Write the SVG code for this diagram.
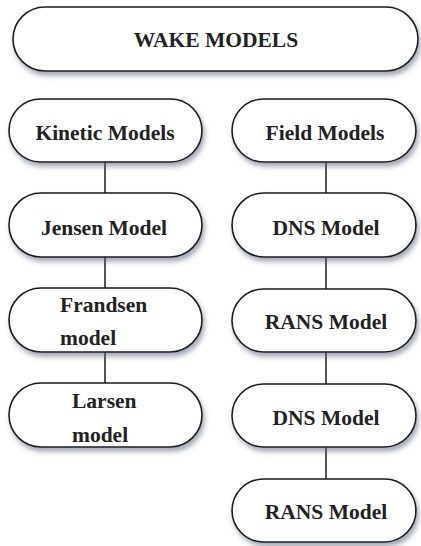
<svg xmlns="http://www.w3.org/2000/svg" width="421" height="546" viewBox="0 0 421 546">
  <defs>
    <filter id="shadow" x="-10%" y="-20%" width="125%" height="160%">
      <feGaussianBlur in="SourceAlpha" stdDeviation="2.5"/>
      <feOffset dx="2" dy="4" result="b"/>
      <feFlood flood-color="#5a6478" flood-opacity="0.55"/>
      <feComposite in2="b" operator="in"/>
      <feMerge>
        <feMergeNode/>
        <feMergeNode in="SourceGraphic"/>
      </feMerge>
    </filter>
  </defs>
  <style>
    .box { fill: #ffffff; stroke: #1a1a1a; stroke-width: 1.6; filter: url(#shadow); }
    .lbl { font-family: "Liberation Serif", "Times New Roman", serif; font-weight: bold; font-size: 21.5px; fill: #222222; }
    .mid { text-anchor: middle; }
    .link { stroke: #555555; stroke-width: 2; fill: none; }
  </style>
  <rect width="421" height="546" fill="#ffffff"/>

  <!-- connectors -->
  <g id="connectors">
    <line class="link" x1="105" y1="162" x2="105" y2="193"/>
    <line class="link" x1="105" y1="257" x2="105" y2="288"/>
    <line class="link" x1="105" y1="352" x2="105" y2="383"/>
    <line class="link" x1="326" y1="162" x2="326" y2="193"/>
    <line class="link" x1="326" y1="257" x2="326" y2="289"/>
    <line class="link" x1="326" y1="352" x2="326" y2="384"/>
    <line class="link" x1="326" y1="447" x2="326" y2="479"/>
  </g>

  <g id="wake-models">
    <rect class="box" x="13" y="7" width="405" height="64" rx="32" ry="32"/>
    <text class="lbl mid" x="216" y="47">WAKE MODELS</text>
  </g>

  <g id="kinetic-models">
    <rect class="box" x="9" y="99" width="193" height="63" rx="31.5" ry="31.5"/>
    <text class="lbl mid" x="105" y="140">Kinetic Models</text>
  </g>
  <g id="jensen-model">
    <rect class="box" x="9" y="193" width="193" height="64" rx="32" ry="32"/>
    <text class="lbl mid" x="104" y="235">Jensen Model</text>
  </g>
  <g id="frandsen-model">
    <rect class="box" x="9" y="288" width="193" height="64" rx="32" ry="32"/>
    <text class="lbl" x="60" y="312">Frandsen</text>
    <text class="lbl" x="60" y="345">model</text>
  </g>
  <g id="larsen-model">
    <rect class="box" x="9" y="383" width="193" height="64" rx="32" ry="32"/>
    <text class="lbl" x="72" y="408">Larsen</text>
    <text class="lbl" x="72" y="442">model</text>
  </g>

  <g id="field-models">
    <rect class="box" x="232" y="99" width="184" height="63" rx="31.5" ry="31.5"/>
    <text class="lbl mid" x="325" y="140">Field Models</text>
  </g>
  <g id="dns-model-1">
    <rect class="box" x="232" y="193" width="184" height="64" rx="32" ry="32"/>
    <text class="lbl mid" x="326" y="235">DNS Model</text>
  </g>
  <g id="rans-model-1">
    <rect class="box" x="232" y="289" width="184" height="63" rx="31.5" ry="31.5"/>
    <text class="lbl mid" x="326" y="329">RANS Model</text>
  </g>
  <g id="dns-model-2">
    <rect class="box" x="232" y="384" width="184" height="63" rx="31.5" ry="31.5"/>
    <text class="lbl mid" x="326" y="425">DNS Model</text>
  </g>
  <g id="rans-model-2">
    <rect class="box" x="232" y="479" width="184" height="63" rx="31.5" ry="31.5"/>
    <text class="lbl mid" x="326" y="519">RANS Model</text>
  </g>
</svg>
